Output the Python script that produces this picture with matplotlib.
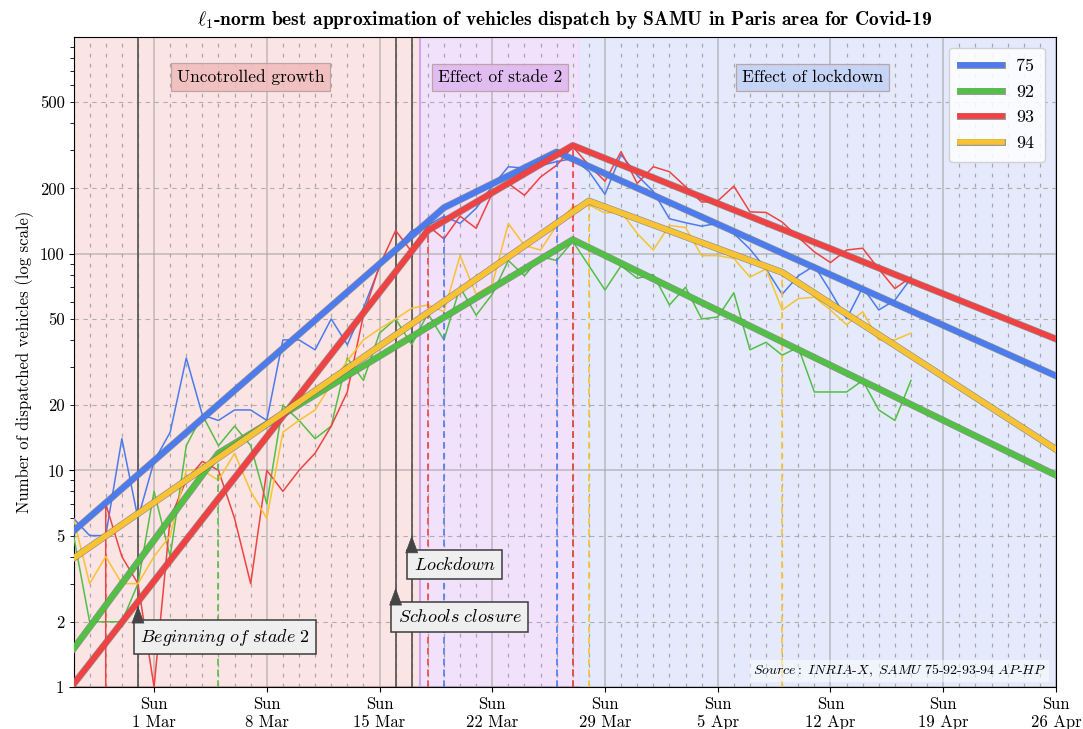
import matplotlib
matplotlib.use("Agg")
import matplotlib.pyplot as plt
import matplotlib.dates as mdates
import matplotlib.ticker as mticker
import matplotlib.patheffects as pe
import pandas as pd

plt.rcParams['font.family'] = 'cmr10'
plt.rcParams['mathtext.fontset'] = 'cm'
plt.rcParams['axes.formatter.use_mathtext'] = True

# daily dispatches, 25 Feb -> 17 Apr 2020
dates = pd.date_range('2020-02-25', periods=53, freq='D')
depts = ['75', '92', '93', '94']
vals_75 = [6, 5, 5, 14, 6, 11, 15, 33, 18, 17, 19, 19, 17, 40, 40, 36, 50, 38, 56, 87,
           105, 128, 135, 149, 138, 162, 205, 252, 248, 255, 266, 275, 240, 188, 287, 230,
           194, 145, 139, 134, 138, 124, 105, 85, 65, 79, 88, 67, 50, 70, 55, 61, 77]
vals_92 = [5, 2, 2, 2, 3, 8, 4, 13, 18, 13, 16, 13, 7, 20, 17, 14, 16, 33, 26, 43,
           50, 38, 53, 40, 70, 52, 65, 93, 79, 97, 93, 114, 88, 68, 88, 77,
           80, 58, 70, 50, 51, 66, 36, 39, 34, 37, 23, 23, 23, 26, 19, 17, 26]
vals_93 = [0, 0, 7, 4, 3, 1, 6, 9, 11, 10, 6, 3, 10, 8, 10, 12, 16, 23, 52, 88,
           128, 102, 135, 117, 149, 131, 190, 211, 186, 226, 256, 312, 256, 216, 296, 211,
           252, 239, 204, 173, 175, 205, 156, 155, 140, 119, 102, 91, 104, 106, 85, 69, 78]
vals_94 = [6, 3, 4, 3, 3, 4, 5, 10, 10, 9, 12, 8, 6, 15, 17, 19, 25, 32, 40, 45,
           50, 56, 58, 54, 98, 65, 72, 138, 109, 104, 135, 165, 168, 154, 156, 124,
           104, 135, 132, 98, 98, 95, 78, 85, 55, 62, 63, 55, 47, 54, 40, 40, 43]

# l1 piecewise fits: breakpoints and fitted values
fit_75_dates = ['2020-02-25', '2020-03-19', '2020-03-26', '2020-04-26']
fit_75_vals = [5.25, 163, 295, 27.3]
fit_92_dates = ['2020-02-25', '2020-03-05', '2020-03-27', '2020-04-26']
fit_92_vals = [1.5, 12.0, 116, 9.5]
fit_93_dates = ['2020-02-25', '2020-03-18', '2020-03-27', '2020-04-26']
fit_93_vals = [1.03, 128, 316, 40.4]
fit_94_dates = ['2020-02-25', '2020-03-28', '2020-04-09', '2020-04-26']
fit_94_vals = [3.93, 175, 82, 12.5]

colors = {'75': '#4b7bee', '92': '#52bf45', '93': '#f04242', '94': '#f8c232'}

event_dates = ['2020-02-29', '2020-03-16', '2020-03-17']
event_labels = ['Beginning\\ of\\ stade\\ 2', 'Schools\\ closure', 'Lockdown']

phase_bounds = ['2020-02-25', '2020-03-17 12:00', '2020-03-27 12:00', '2020-04-26']
phase_labels = ['Uncotrolled growth', 'Effect of stade 2', 'Effect of lockdown']
phase_colors = ['#fbe4e4', '#f1e1fb', '#e4eafb']
phase_edges = ['#f2a8b0', '#cfa6f0', '#e4eafb']
phase_box = ['#f0bcbc', '#e0b8f0', '#c3d3f6']

series = {'75': vals_75, '92': vals_92, '93': vals_93, '94': vals_94}
fits = {'75': (fit_75_dates, fit_75_vals), '92': (fit_92_dates, fit_92_vals),
        '93': (fit_93_dates, fit_93_vals), '94': (fit_94_dates, fit_94_vals)}

fig = plt.figure(figsize=(10.83, 7.29), dpi=100)
ax = fig.add_axes([0.0679, 0.0576, 0.9071, 0.8916])
ax.set_yscale('log')

# phases
for i in range(3):
    ax.axvspan(pd.Timestamp(phase_bounds[i]), pd.Timestamp(phase_bounds[i + 1]),
               fc=phase_colors[i], ec=phase_edges[i], lw=1.5, zorder=0)

# horizontal dashed grid at 2 and 5
for v in [2, 5, 20, 50, 200, 500]:
    ax.axhline(v, color='#a0a0a0', lw=0.8, ls=(0, (4, 4)), alpha=0.8, zorder=1)

# event lines
for d in event_dates:
    ax.axvline(pd.Timestamp(d), color='#505050', lw=1.2, zorder=2)

# raw data
for k in depts:
    ax.plot(dates, series[k], color=colors[k], lw=1.1, zorder=3)

# breakpoints of the fits
for k in ['92', '75', '94', '93']:
    fd, fv = fits[k]
    for d, v in zip(fd[1:-1], fv[1:-1]):
        ax.plot([pd.Timestamp(d)] * 2, [1, v], color=colors[k], lw=1.2,
                ls=(0, (4, 2.5)), zorder=3)

# fits
for k in depts:
    fd, fv = fits[k]
    ax.plot(pd.to_datetime(fd), fv, color=colors[k], lw=4.0, label=k, zorder=4,
            path_effects=[pe.Stroke(linewidth=5.0, foreground='#707070', alpha=0.7), pe.Normal()])

ax.set_xlim(pd.Timestamp('2020-02-25'), pd.Timestamp('2020-04-26'))
ax.set_ylim(1, 1000)

ax.xaxis.set_major_locator(mdates.WeekdayLocator(byweekday=mdates.SU))
ax.xaxis.set_minor_locator(mdates.DayLocator())
ax.xaxis.set_major_formatter(mticker.FuncFormatter(
    lambda x, pos: "Sun\n%d %s" % (mdates.num2date(x).day, mdates.num2date(x).strftime('%b'))))
ax.tick_params(axis='x', which='minor', length=0)

ax.yaxis.set_major_locator(mticker.FixedLocator([1, 10, 100]))
ax.yaxis.set_major_formatter(mticker.FixedFormatter(['1', '10', '100']))
minors = [m * 10 ** e for e in range(3) for m in range(2, 10)]
ax.yaxis.set_minor_locator(mticker.FixedLocator(minors))
ax.yaxis.set_minor_formatter(mticker.FuncFormatter(
    lambda y, pos: ('%g' % y) if round(y / 10 ** int(len(str(int(round(y)))) - 1)) in (2, 5) else ''))
ax.tick_params(axis='both', which='both', labelsize=12)
ax.tick_params(axis='y', which='minor', length=3)

ax.grid(which='major', color='#a0a0a0', lw=1.1, alpha=0.65, zorder=1)
ax.xaxis.grid(True, which='minor', color='#a0a0a0', lw=0.9, ls=(0, (3, 5)), alpha=0.9)

ax.set_ylabel('Number of dispatched vehicles (log scale)', fontsize=12)
ax.set_title(r'$\ell_1$-norm best approximation of vehicles dispatch by SAMU in Paris area for Covid-19',
             fontfamily='cmb10', fontsize=14, pad=9)

# phase labels
for x, lab, c in zip([0.18, 0.434, 0.752], phase_labels, phase_box):
    ax.text(x, 0.938, lab, transform=ax.transAxes, ha='center', va='center', fontsize=12.5, zorder=5,
            bbox=dict(boxstyle='square,pad=0.35', fc=c, ec='#b8a0a0', lw=0.9, alpha=0.9))

# event annotations: boxed label plus a small triangle pointing at the event line
for d, lab, tip, txt in zip(event_dates, event_labels, [2.37, 2.87, 5.0], [1.70, 2.11, 3.67]):
    xd = mdates.date2num(pd.Timestamp(d))
    ax.text(xd + 0.12, txt, r'$\mathit{%s}$' % lab, ha='left', va='center', fontsize=13, zorder=6,
            bbox=dict(boxstyle='square,pad=0.35', fc='#efefef', ec='#3c3c3c', lw=1.1))
    ax.annotate('', xy=(xd, tip), xytext=(0, -11.5), textcoords='offset points', zorder=6,
                xycoords='data',
                arrowprops=dict(arrowstyle='-|>,head_length=0.9,head_width=0.33', mutation_scale=13,
                                fc='#444444', ec='#444444', lw=0.5, shrinkA=0, shrinkB=0))

ax.text(0.99, 0.012,
        r'$\mathit{Source:\ INRIA}\text{-}\mathit{X,\ SAMU\ 75}\text{-}\mathit{92}\text{-}'
        r'\mathit{93}\text{-}\mathit{94\ AP}\text{-}\mathit{HP}$',
        transform=ax.transAxes, ha='right', va='bottom', fontsize=10, zorder=6,
        bbox=dict(fc='white', ec='none', alpha=0.5, pad=2))

leg = ax.legend(loc='upper right', fontsize=13, framealpha=0.85, edgecolor='#cccccc',
                handlelength=2.3, borderpad=0.6, labelspacing=0.55, borderaxespad=0.6)
leg.set_zorder(7)

fig.savefig('out.png', dpi=100)
